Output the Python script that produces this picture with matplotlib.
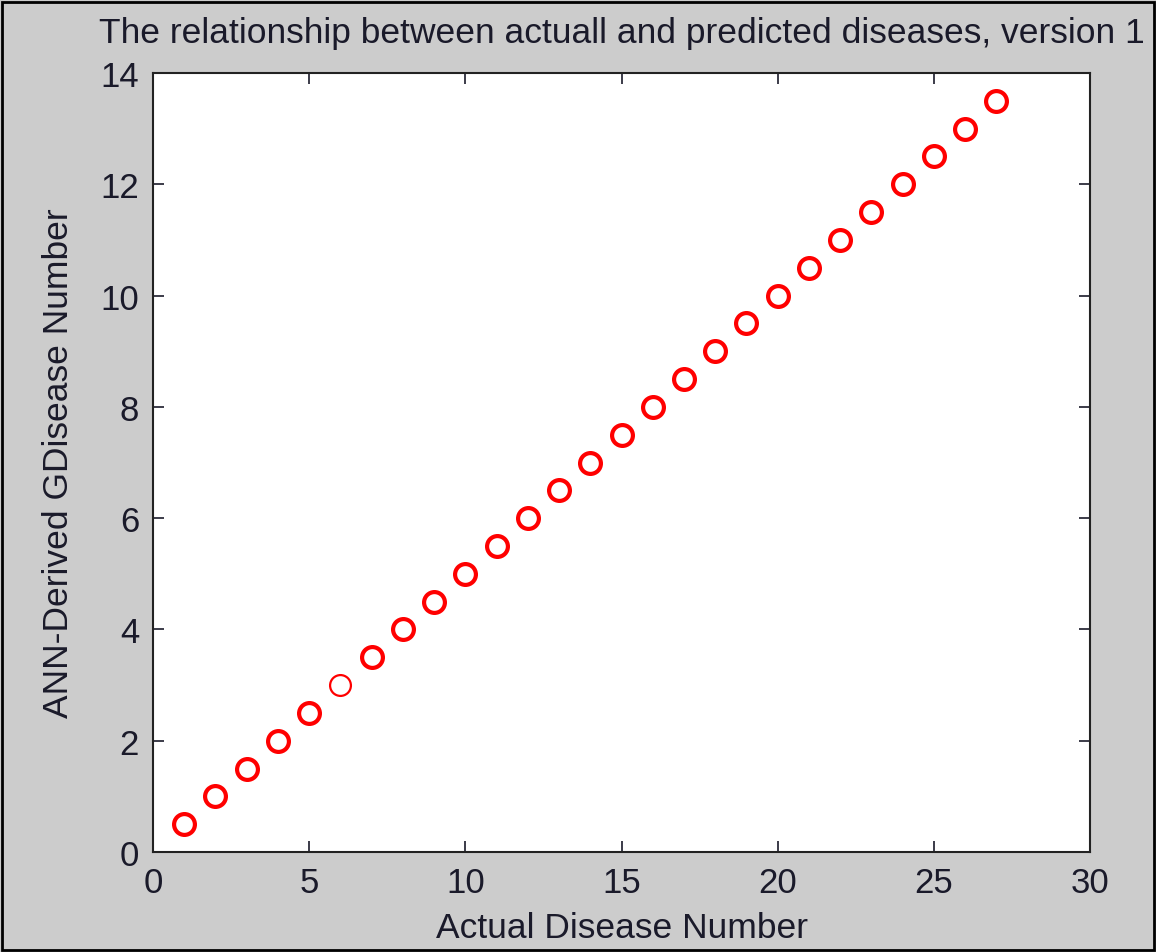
import numpy as np
import matplotlib.pyplot as plt
from matplotlib.patches import Rectangle

# données
actual = list(range(1, 28))
predicted = [0.5, 1.0, 1.5, 2.0, 2.5, 3.0, 3.5, 4.0, 4.5, 5.0, 5.5, 6.0, 6.5, 7.0,
             7.5, 8.0, 8.5, 9.0, 9.5, 10.0, 10.5, 11.0, 11.5, 12.0, 12.5, 13.0, 13.5]
edge_widths = [3.0] * 27
edge_widths[5] = 1.6  # le point 6 est plus fin

x_ticks = [0, 5, 10, 15, 20, 25, 30]
y_ticks = [0, 2, 4, 6, 8, 10, 12, 14]

plt.rcParams['font.family'] = ['Liberation Sans', 'DejaVu Sans']

fig = plt.figure(figsize=(11.56, 9.53), dpi=100, facecolor='#cccccc')
ax = fig.add_axes([153 / 1156, 1 - 853 / 953, (1090 - 153) / 1156, (853 - 74) / 953])
ax.set_facecolor('white')

for x, y, lw in zip(actual, predicted, edge_widths):
    ax.plot(x, y, 'o', markersize=15, markerfacecolor='none',
            markeredgecolor='red', markeredgewidth=lw)

ax.set_xlim(0, 30)
ax.set_ylim(0, 14)
ax.set_xticks(x_ticks)
ax.set_yticks(y_ticks)
ax.tick_params(direction='in', length=8, width=1.2, labelsize=25, colors='#1a1a2a',
               top=True, right=True, pad=10)
for s in ax.spines.values():
    s.set_linewidth(1.5)
    s.set_color('#222222')

ax.set_title("The relationship between actuall and predicted diseases, version 1",
             fontsize=25.5, pad=22, color='#1a1a2a')
ax.set_xlabel("Actual Disease Number", fontsize=25.5, labelpad=9, color='#1a1a2a')
ax.set_ylabel("ANN-Derived GDisease Number", fontsize=25.5, labelpad=18, color='#1a1a2a')

# cadre noir autour de la figure
fig.patches.append(Rectangle((0.002, 0.002), 0.996, 0.995, transform=fig.transFigure,
                             fill=False, edgecolor='black', linewidth=2))

fig.savefig('out.png', dpi=100, facecolor=fig.get_facecolor())
